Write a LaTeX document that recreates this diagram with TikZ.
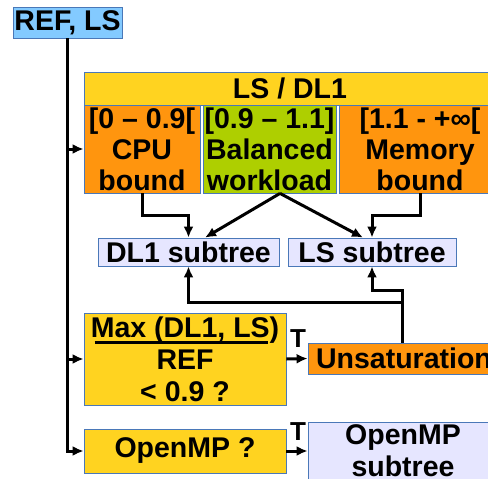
\documentclass[tikz,border=0pt]{standalone}
\usepackage{fontspec}
\setmainfont{Liberation Sans}
\usetikzlibrary{calc,arrows.meta}
\definecolor{cyel}{HTML}{FFD320}
\definecolor{corg}{HTML}{FF950E}
\definecolor{cgrn}{HTML}{AECF00}
\definecolor{cblu}{HTML}{83CAFF}
\definecolor{clav}{HTML}{E6E6FF}
\definecolor{cbrd}{HTML}{4A78B8}
\tikzset{
  bx/.style={draw=cbrd, line width=0.8pt, inner sep=0pt, align=center,
    font=\fontsize{28.5}{31}\selectfont\bfseries},
  arr/.style={line width=3pt, -{Latex[length=11pt,width=10pt]}},
  tl/.style={font=\fontsize{26}{28}\selectfont\bfseries, inner sep=0pt}
}
\begin{document}
\begin{tikzpicture}[x=1pt,y=-1pt]
\useasboundingbox (0,0) rectangle (488,479);
\clip (0,0) rectangle (488,479);
\node[bx, fill=cblu, minimum width=109pt, minimum height=31pt] (ref) at (67.5,22.5) {REF, LS};
\node[bx, fill=cyel, minimum width=412pt, minimum height=33pt] (hdr) at (290,88.5) {LS / DL1};
\node[bx, fill=corg, minimum width=116pt, minimum height=88pt] (cpu) at (142,149) {[0 – 0.9[\\CPU\\bound};
\node[bx, fill=cgrn, minimum width=133pt, minimum height=88pt] (bal) at (269.5,149) {[0.9 – 1.1]\\Balanced\\workload};
\node[bx, fill=corg, minimum width=162pt, minimum height=88pt] (mem) at (420,149) {[1.1 - +∞[\\Memory\\bound};
\node[bx, fill=clav, minimum width=181pt, minimum height=28pt] (dl1) at (188.5,252) {DL1 subtree};
\node[bx, fill=clav, minimum width=168pt, minimum height=28pt] (ls) at (372,252) {LS subtree};
\node[bx, fill=cyel, minimum width=202pt, minimum height=92pt, font=\fontsize{28.5}{32}\selectfont\bfseries] (max) at (185,359) {Max (DL1, LS)\\REF\\< 0.9 ?};
\node[bx, fill=corg, minimum width=192pt, minimum height=31pt] (unsat) at (404,358.5) {Unsaturation};
\node[bx, fill=cyel, minimum width=202pt, minimum height=44pt] (ompq) at (185,451) {OpenMP ?};
\node[bx, fill=clav, minimum width=190pt, minimum height=58pt, font=\fontsize{28.5}{32}\selectfont\bfseries] (omp) at (403,451) {OpenMP\\subtree};
\node[tl] (t1) at (298,339) {T};
\node[tl] (t2) at (298,432) {T};
% fraction bar
\draw[line width=2.5pt] ($(max.north west)+(11,30)$) -- ++(173,0);
% trunk
\draw[arr] (ref.south) |- (ompq.west);
\draw[arr] (ref.south |- cpu.west) -- (cpu.west);
\draw[arr] (ref.south |- max.west) -- (max.west);
% to subtrees
\draw[arr] (cpu.south) -- ++(0,22) -| (dl1.north);
\draw[arr] (mem.south) -- ++(0,22) -| (ls.north);
\draw[arr] ([xshift=10.5pt]bal.south) -- ($(dl1.north)+(16.5,0)$);
\draw[arr] ([xshift=10.5pt]bal.south) -- ($(ls.north)+(-9,0)$);
% from unsaturation
\draw[arr] ([xshift=-2pt]unsat.north) -- ++(0,-40) -| (dl1.south);
\draw[arr] ([xshift=-2pt]unsat.north) |- ($(ls.south)+(0,24)$) -- (ls.south);
% T arrows
\draw[arr] (max.east) -- (unsat.west);
\draw[arr] (ompq.east) -- (omp.west |- ompq.east);
\end{tikzpicture}
\end{document}
